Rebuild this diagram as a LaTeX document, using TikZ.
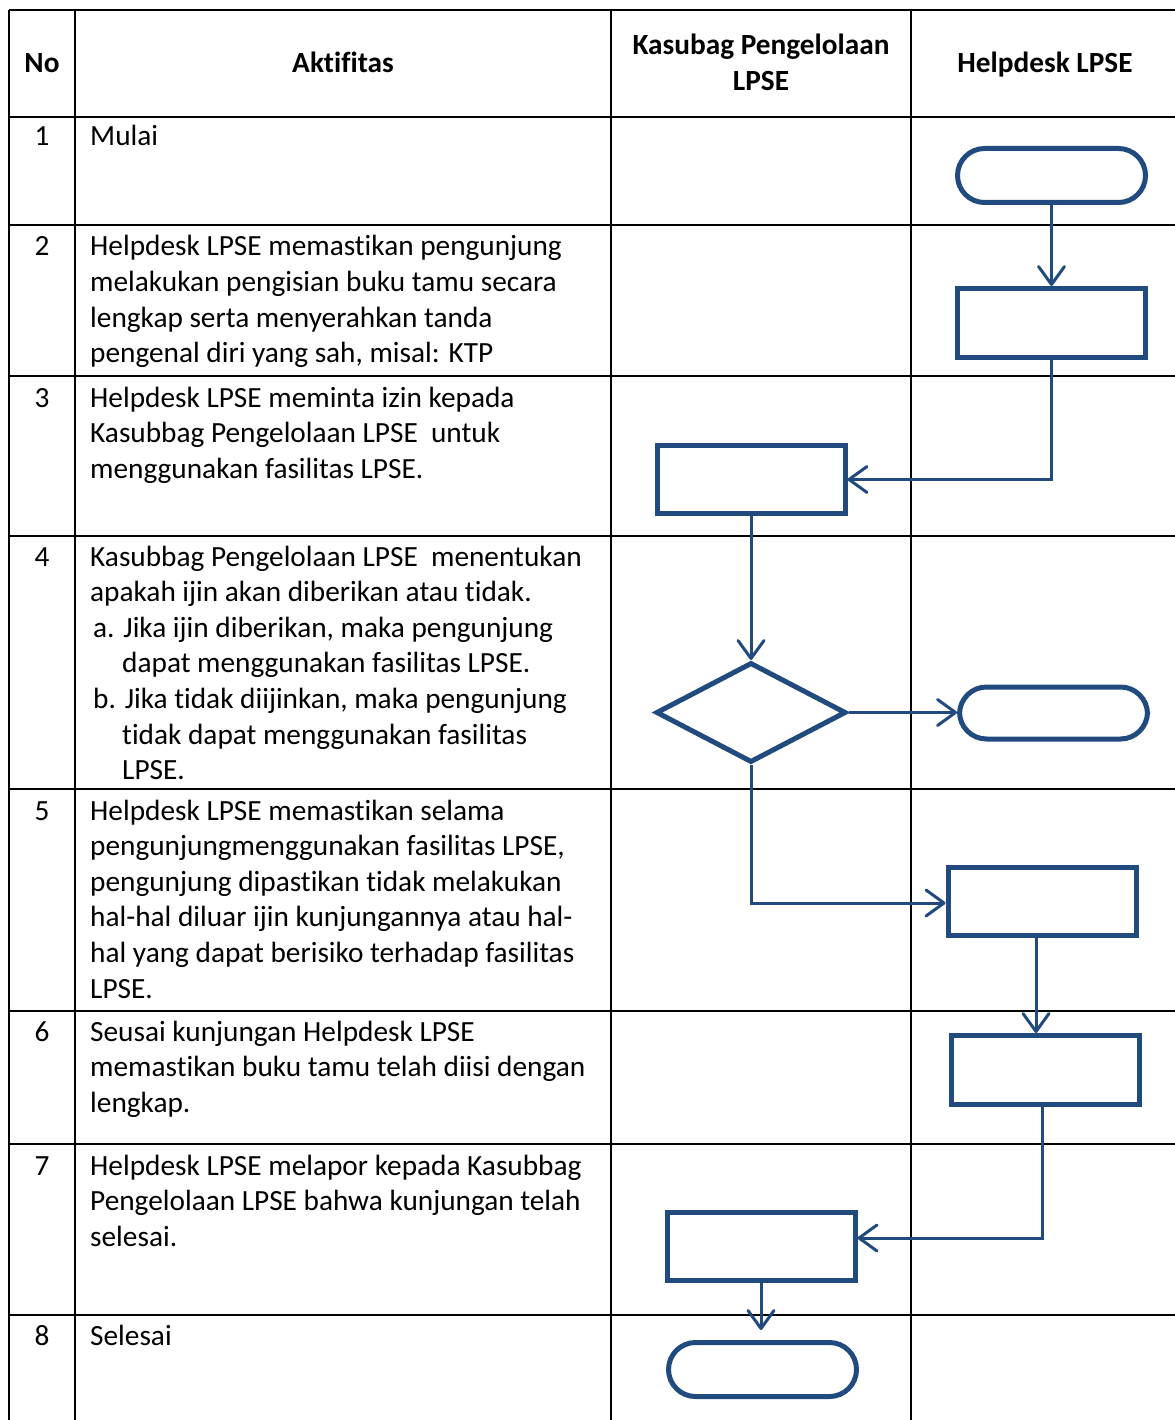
\documentclass[tikz,border=0pt]{standalone}
\usepackage{fontspec}
\setmainfont{Carlito}[Ligatures=NoCommon]
\usetikzlibrary{arrows.meta,shapes.geometric}
\definecolor{flow}{RGB}{33,74,127}
\begin{document}
\begin{tikzpicture}[x=1pt,y=-1pt,
  grid/.style={line width=2.2pt,black},
  procbox/.style={draw=flow,line width=5pt,rectangle,minimum width=188pt,minimum height=69pt,inner sep=0pt},
  termbox/.style={draw=flow,line width=5pt,rectangle,rounded corners=27pt,minimum width=188pt,minimum height=54pt,inner sep=0pt},
  decbox/.style={draw=flow,line width=5pt,diamond,minimum width=190pt,minimum height=100pt,inner sep=0pt,miter limit=20},
  conn/.style={draw=flow,line width=3pt,-{Straight Barb[length=18pt,width=26pt,round]}},
  body/.style={anchor=base west,inner sep=0pt,font=\fontsize{29.3}{35.6}\selectfont},
  num/.style={anchor=base,inner sep=0pt,font=\fontsize{29.3}{35.6}\selectfont},
  head/.style={anchor=base,inner sep=0pt,align=center,font=\fontsize{29.3}{36}\selectfont\bfseries}]
\useasboundingbox (0,0) rectangle (1174,1420);
\fill[white] (0,0) rectangle (1174,1420);
% table grid
\draw[grid] (9,10) -- (1180,10);
\foreach \yy in {117,225,376,536,789,1011,1144,1315}{\draw[grid] (9,\yy) -- (1180,\yy);}
\foreach \xx in {9,75,611,911}{\draw[grid] (\xx,10) -- (\xx,1425);}
% headers
\node[head] (hno) at (42,73) {No};
\node[head] (hakt) at (343,73) {Aktifitas};
\node[head] (hkas) at (761,91) {Kasubag Pengelolaan\\LPSE};
\node[head] (hhelp) at (1045,73) {Helpdesk LPSE};
% numbers
\node[num] (n1) at (42,146) {1};
\node[num] (n2) at (42,256) {2};
\node[num] (n3) at (42,407) {3};
\node[num] (n4) at (42,566) {4};
\node[num] (n5) at (42,820) {5};
\node[num] (n6) at (42,1041) {6};
\node[num] (n7) at (42,1175) {7};
\node[num] (n8) at (42,1345) {8};
% activities
\node[body] (a1) at (90,146) {\parbox[t]{515pt}{Mulai}};
\node[body] (a2) at (90,256) {\parbox[t]{515pt}{Helpdesk LPSE memastikan pengunjung\\melakukan pengisian buku tamu secara\\lengkap serta menyerahkan tanda\\pengenal diri yang sah, misal: KTP}};
\node[body] (a3) at (90,407) {\parbox[t]{515pt}{Helpdesk LPSE meminta izin kepada\\Kasubbag Pengelolaan LPSE\ \ untuk\\menggunakan fasilitas LPSE.}};
\node[body] (a4) at (90,566) {\parbox[t]{515pt}{Kasubbag Pengelolaan LPSE\ \ menentukan\\apakah ijin akan diberikan atau tidak.\\\hspace*{3pt}a. Jika ijin diberikan, maka pengunjung\\\hspace*{32pt}dapat menggunakan fasilitas LPSE.\\\hspace*{3pt}b. Jika tidak diijinkan, maka pengunjung\\\hspace*{32pt}tidak dapat menggunakan fasilitas\\\hspace*{32pt}LPSE.}};
\node[body] (a5) at (90,820) {\parbox[t]{515pt}{Helpdesk LPSE memastikan selama\\pengunjungmenggunakan fasilitas LPSE,\\pengunjung dipastikan tidak melakukan\\hal-hal diluar ijin kunjungannya atau hal-\\hal yang dapat berisiko terhadap fasilitas\\LPSE.}};
\node[body] (a6) at (90,1041) {\parbox[t]{515pt}{Seusai kunjungan Helpdesk LPSE\\memastikan buku tamu telah diisi dengan\\lengkap.}};
\node[body] (a7) at (90,1175) {\parbox[t]{515pt}{Helpdesk LPSE melapor kepada Kasubbag\\Pengelolaan LPSE bahwa kunjungan telah\\selesai.}};
\node[body] (a8) at (90,1345) {\parbox[t]{515pt}{Selesai}};
% flow shapes
\node[termbox] (s1) at (1051.5,175.5) {};
\node[procbox] (r2) at (1051.5,323) {};
\node[procbox,minimum height=68pt] (r3) at (751,479.5) {};
\node[decbox] (d4) at (751,712.5) {};
\node[termbox,minimum height=52pt] (t4) at (1053.5,713) {};
\node[procbox,minimum height=68pt] (r5) at (1042,901.5) {};
\node[procbox] (r6) at (1045,1070) {};
\node[procbox,minimum height=68pt] (r7) at (761,1246.5) {};
\node[termbox] (t8) at (762.5,1369.5) {};
% connectors
\draw[conn] (s1.south) -- (r2.north);
\draw[conn] (r2.south) |- (r3.east);
\draw[conn] (r3.south) -- (d4.north);
\draw[conn] (d4.east) -- (d4.east -| t4.west);
\draw[conn] (d4.south) |- ([yshift=-1.5pt]r5.west);
\draw[conn] ([xshift=-6pt]r5.south) -- ([xshift=-6pt]r5.south |- r6.north);
\draw[conn] ([xshift=-3pt]r6.south) |- ([yshift=8.5pt]r7.east);
\draw[conn,shorten >=10pt] (r7.south) -- (r7.south |- t8.north);
\end{tikzpicture}
\end{document}
